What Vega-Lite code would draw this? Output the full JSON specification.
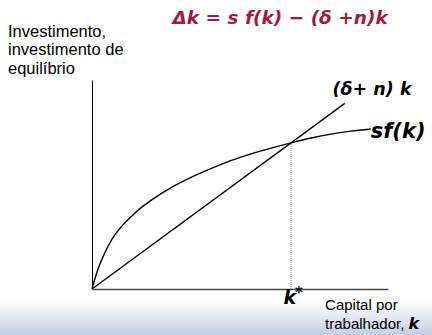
{
  "$schema": "https://vega.github.io/schema/vega-lite/v6.json",
  "width": 296,
  "height": 209,
  "padding": {"left": 92, "top": 80, "right": 44, "bottom": 46},
  "autosize": "none",
  "background": "white",
  "config": {"view": {"stroke": null}, "font": "Liberation Sans"},
  "datasets": {
    "saving": [
      {"k": 0, "v": 0}, {"k": 0.1, "v": 0.5}, {"k": 0.3, "v": 1.35}, {"k": 0.6, "v": 2.35},
      {"k": 1, "v": 3.4}, {"k": 1.5, "v": 4.3}, {"k": 2, "v": 5.0}, {"k": 2.5, "v": 5.6},
      {"k": 3, "v": 6.1}, {"k": 4, "v": 6.95}, {"k": 5, "v": 7.65}, {"k": 6, "v": 8.25},
      {"k": 7, "v": 8.8}, {"k": 8, "v": 9.25}, {"k": 9, "v": 9.64}, {"k": 10, "v": 10},
      {"k": 11, "v": 10.33}, {"k": 12, "v": 10.6}, {"k": 13, "v": 10.8}, {"k": 14, "v": 10.95}
    ],
    "breakeven": [{"k": 0, "v": 0}, {"k": 12.7, "v": 12.7}]
  },
  "layer": [
    {
      "data": {"values": [{}]},
      "mark": {"type": "rect", "color": {"gradient": "linear", "x1": 0, "y1": 0, "x2": 0, "y2": 1,
        "stops": [{"offset": 0, "color": "#ffffff"}, {"offset": 1, "color": "#c3cde0"}]}},
      "encoding": {
        "x": {"datum": -4.62, "type": "quantitative",
              "scale": {"domain": [0, 14.87], "nice": false, "zero": false},
              "axis": {"domainColor": "#4a4a4a", "domainWidth": 1.6, "ticks": false, "labels": false, "grid": false, "title": null}},
        "x2": {"datum": 17.09},
        "y": {"datum": -0.85, "type": "quantitative",
              "scale": {"domain": [0, 14.3], "nice": false, "zero": false},
              "axis": {"domainColor": "#000000", "domainWidth": 1, "ticks": false, "labels": false, "grid": false, "title": null}},
        "y2": {"datum": -3.15}
      }
    },
    {
      "data": {"values": [{}]},
      "mark": {"type": "rule", "color": "#808080", "strokeWidth": 1, "strokeDash": [1, 1]},
      "encoding": {
        "x": {"datum": 10, "type": "quantitative"},
        "y": {"datum": 0, "type": "quantitative"},
        "y2": {"datum": 10}
      }
    },
    {
      "data": {"name": "saving"},
      "mark": {"type": "line", "color": "#000000", "strokeWidth": 1.4, "interpolate": "monotone"},
      "encoding": {
        "x": {"field": "k", "type": "quantitative"},
        "y": {"field": "v", "type": "quantitative"}
      }
    },
    {
      "data": {"name": "breakeven"},
      "mark": {"type": "line", "color": "#000000", "strokeWidth": 1.4},
      "encoding": {
        "x": {"field": "k", "type": "quantitative"},
        "y": {"field": "v", "type": "quantitative"}
      }
    },
    {
      "data": {"values": [{"label": "Δk = s f(k)  −  (δ +n)k", "k": 9.45, "v": 18.1}]},
      "mark": {"type": "text", "align": "center", "baseline": "alphabetic", "fontSize": 18.5,
               "font": "DejaVu Sans", "fontWeight": "bold", "fontStyle": "italic", "color": "#a31a3e"},
      "encoding": {
        "x": {"field": "k", "type": "quantitative"},
        "y": {"field": "v", "type": "quantitative"},
        "text": {"field": "label"}
      }
    },
    {
      "data": {"values": [
        {"label": "Investimento,", "k": -4.22, "v": 17.26},
        {"label": "investimento de", "k": -4.22, "v": 16.03},
        {"label": "equilíbrio", "k": -4.22, "v": 14.73}
      ]},
      "mark": {"type": "text", "align": "left", "baseline": "alphabetic", "fontSize": 16.5, "color": "#000000"},
      "encoding": {
        "x": {"field": "k", "type": "quantitative"},
        "y": {"field": "v", "type": "quantitative"},
        "text": {"field": "label"}
      }
    },
    {
      "data": {"values": [
        {"label": "Capital por", "k": 11.71, "v": -1.44},
        {"label": "trabalhador,", "k": 11.71, "v": -2.74}
      ]},
      "mark": {"type": "text", "align": "left", "baseline": "alphabetic", "fontSize": 15, "color": "#000000"},
      "encoding": {
        "x": {"field": "k", "type": "quantitative"},
        "y": {"field": "v", "type": "quantitative"},
        "text": {"field": "label"}
      }
    },
    {
      "data": {"values": [{"label": "(δ+ n) k", "k": 14.07, "v": 13.3}]},
      "mark": {"type": "text", "align": "center", "baseline": "alphabetic", "fontSize": 17.5,
               "font": "DejaVu Sans", "fontWeight": "bold", "fontStyle": "italic", "color": "#000000"},
      "encoding": {
        "x": {"field": "k", "type": "quantitative"},
        "y": {"field": "v", "type": "quantitative"},
        "text": {"field": "label"}
      }
    },
    {
      "data": {"values": [{"label": "sf(k)", "k": 14.0, "v": 10.3}]},
      "mark": {"type": "text", "align": "left", "baseline": "alphabetic", "fontSize": 21,
               "font": "DejaVu Sans", "fontWeight": "bold", "fontStyle": "italic", "color": "#000000"},
      "encoding": {
        "x": {"field": "k", "type": "quantitative"},
        "y": {"field": "v", "type": "quantitative"},
        "text": {"field": "label"}
      }
    },
    {
      "data": {"values": [{"label": "k", "k": 15.9, "v": -2.74}]},
      "mark": {"type": "text", "align": "left", "baseline": "alphabetic", "fontSize": 16,
               "font": "DejaVu Sans", "fontWeight": "bold", "fontStyle": "italic", "color": "#000000"},
      "encoding": {
        "x": {"field": "k", "type": "quantitative"},
        "y": {"field": "v", "type": "quantitative"},
        "text": {"field": "label"}
      }
    },
    {
      "data": {"values": [{"label": "k", "k": 10.25, "v": -1.03}]},
      "mark": {"type": "text", "align": "right", "baseline": "alphabetic", "fontSize": 19,
               "font": "DejaVu Sans", "fontWeight": "bold", "fontStyle": "italic", "color": "#000000"},
      "encoding": {
        "x": {"field": "k", "type": "quantitative"},
        "y": {"field": "v", "type": "quantitative"},
        "text": {"field": "label"}
      }
    },
    {
      "data": {"values": [{"label": "*", "k": 10.2, "v": -0.6}]},
      "mark": {"type": "text", "align": "left", "baseline": "alphabetic", "fontSize": 15,
               "font": "DejaVu Sans", "fontWeight": "bold", "color": "#000000"},
      "encoding": {
        "x": {"field": "k", "type": "quantitative"},
        "y": {"field": "v", "type": "quantitative"},
        "text": {"field": "label"}
      }
    }
  ]
}
